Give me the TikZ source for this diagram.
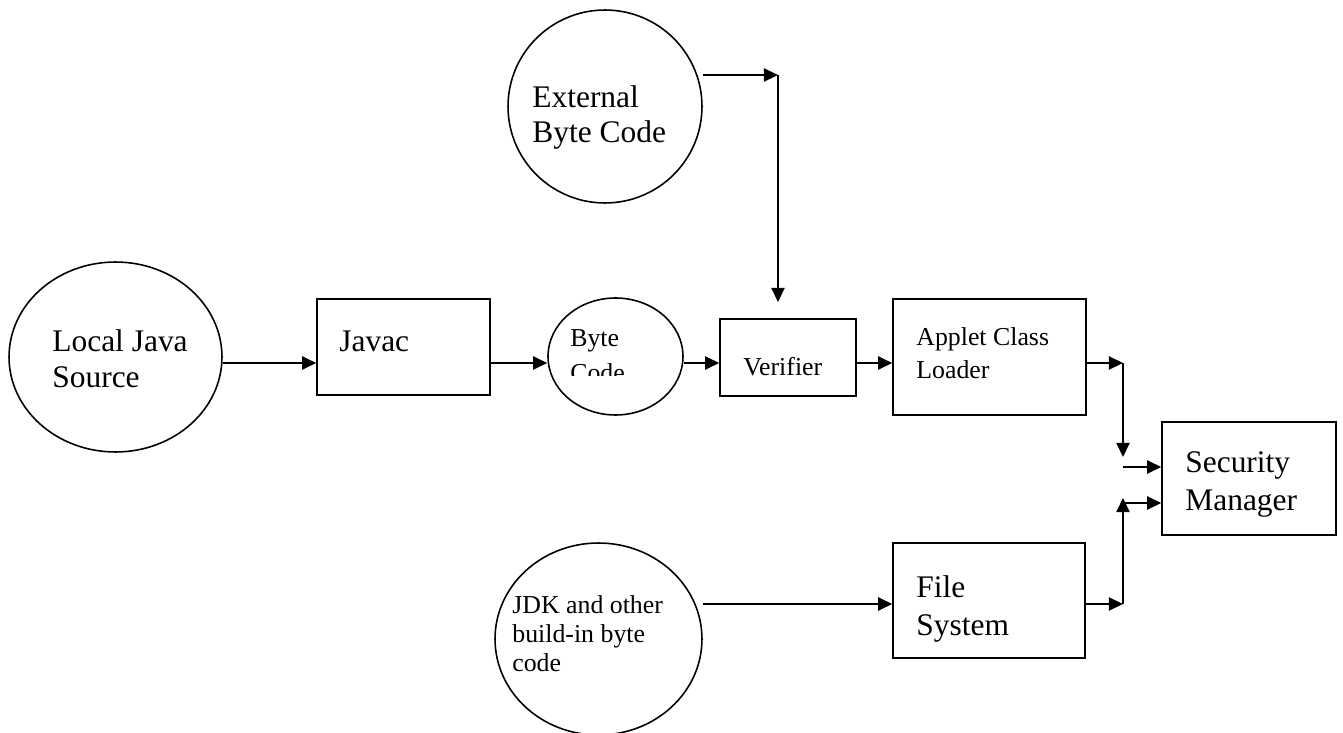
\documentclass[tikz,border=0pt]{standalone}
\usepackage{fontspec}
\setmainfont{Liberation Serif}
\usetikzlibrary{shapes.geometric,arrows.meta}

\tikzset{
  shapeline/.style={draw=black, line width=0.9pt, inner sep=0pt},
  oval/.style={shapeline, ellipse},
  block/.style={shapeline, rectangle},
  flow/.style={draw=black, line width=0.9pt, -{Triangle[length=8pt,width=7.5pt]}},
  txt/.style={inner sep=0pt, anchor=base west},
  big/.style={txt, font=\fontsize{17.9}{20}\selectfont},
  mid/.style={txt, font=\fontsize{14.7}{17}\selectfont},
}

\begin{document}
\begin{tikzpicture}[x=0.02cm, y=-0.02cm]
\useasboundingbox (0,0) rectangle (1343,733);

% sources and stages
\node[oval, minimum width=4.26cm, minimum height=3.8cm]  (loc)    at (115.5,357) {};
\node[block, minimum width=3.46cm, minimum height=1.92cm] (javac) at (403.5,347) {};
\node[oval, minimum width=2.7cm, minimum height=2.34cm]  (byte)   at (615.5,356.5) {};
\node[block, minimum width=2.72cm, minimum height=1.54cm] (ver)   at (788,357.5) {};
\node[block, minimum width=3.86cm, minimum height=2.32cm] (applet) at (989.5,357) {};
\node[oval, minimum width=3.88cm, minimum height=3.86cm] (ext)    at (605,106.5) {};
\node[block, minimum width=3.48cm, minimum height=2.26cm] (sec)   at (1249,478.5) {};
\node[oval, minimum width=4.14cm, minimum height=3.84cm] (jdk)    at (598.5,639) {};
\node[block, minimum width=3.84cm, minimum height=2.3cm]  (fs)    at (989,600.5) {};

% labels
\node[big] (locA) at (52,352) {Local Java};
\node[big] (locB) at (52,388) {Source};
\node[big] (javacA) at (339,352) {Javac};
\node[mid] (byteA) at (570,347) {Byte};
\begin{scope}
  \clip (540,330) rectangle (690,376);
  \node[mid] (byteB) at (570,381) {Code};
\end{scope}
\node[mid] (verA) at (743,376) {Verifier};
\node[mid] (appA) at (916,346) {Applet Class};
\node[mid] (appB) at (916,378) {Loader};
\node[big] (extA) at (532,108) {External};
\node[big] (extB) at (532,143) {Byte Code};
\node[big] (secA) at (1185,472) {Security};
\node[big] (secB) at (1185,510) {Manager};
\node[mid] (jdkA) at (512,613) {JDK and other};
\node[mid] (jdkB) at (512,642) {build-in byte};
\node[mid] (jdkC) at (512,671) {code};
\node[big] (fsA) at (916,597) {File};
\node[big] (fsB) at (916,635) {System};

% routing points
\coordinate (row)   at (0,363);
\coordinate (eTurn) at (778,75);
\coordinate (eEnd)  at (778,302);
\coordinate (aTurn) at (1123,363);
\coordinate (aEnd)  at (1123,457);
\coordinate (sIn1)  at (1123,467);
\coordinate (fTurn) at (1123,604);
\coordinate (fEnd)  at (1123,498);
\coordinate (sIn2)  at (1123,503);

% main chain
\draw[flow] (loc.east |- row) -- (javac.west |- row);
\draw[flow] (javac.east |- row) -- (byte.west |- row);
\draw[flow] (byte.east |- row) -- (ver.west |- row);
\draw[flow] (ver.east |- row) -- (applet.west |- row);

% external byte code into the verifier
\draw[flow] (ext.east |- eTurn) -- (eTurn);
\draw[flow] (eTurn) -- (eEnd);

% class loader towards the security manager
\draw[flow] (applet.east |- aTurn) -- (aTurn);
\draw[flow] (aTurn) -- (aEnd);
\draw[flow] (sIn1) -- (sec.west |- sIn1);

% built-in code through the file system
\draw[flow] (jdk.east |- fTurn) -- (fs.west |- fTurn);
\draw[flow] (fs.east |- fTurn) -- (fTurn);
\draw[flow] (fTurn) -- (fEnd);
\draw[flow] (sIn2) -- (sec.west |- sIn2);
\end{tikzpicture}
\end{document}
